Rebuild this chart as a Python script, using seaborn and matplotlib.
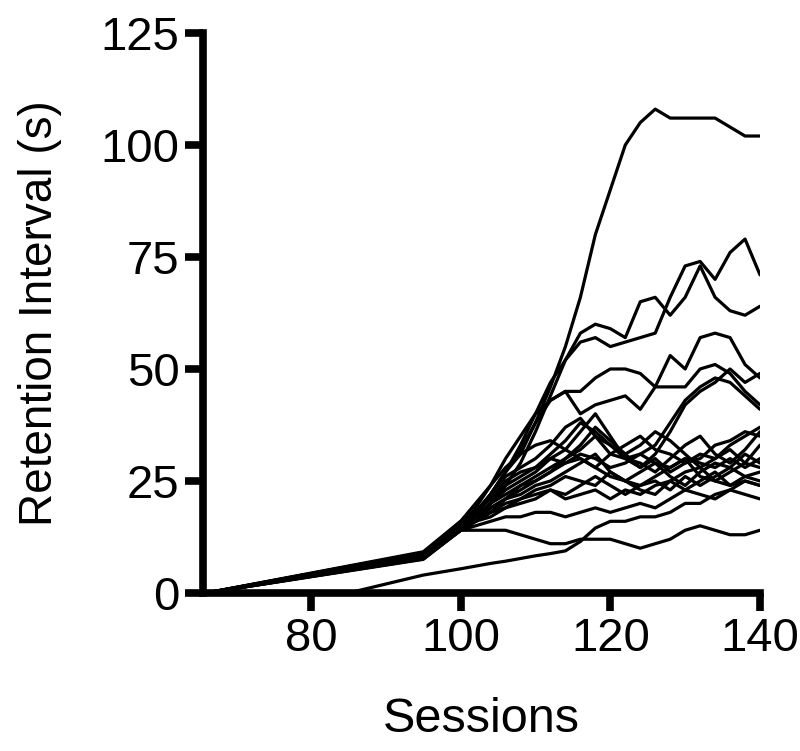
import pandas as pd
import matplotlib.pyplot as plt
import seaborn as sns

sns.set_theme(style="ticks")
plt.rcParams['font.family'] = ['Liberation Sans', 'DejaVu Sans']
plt.rcParams['text.color'] = 'black'
plt.rcParams['axes.labelcolor'] = 'black'

# sessions sampled; 85 only used by the late-starting subject
sessions = [66, 85, 95] + list(range(100, 141, 2))

# early part (session 66, 85, 95) for every subject
early = {
    "A":   [0, None, 9.0],
    "X":   [0, None, 8.5],
    "Y":   [0, None, 8.7],
    "M":   [0, None, 8.4],
    "L1":  [0, None, 8.2],
    "L3":  [0, None, 8.0],
    "L4":  [0, None, 7.8],
    "B1":  [0, None, 8.5],
    "B2":  [0, None, 8.3],
    "B3":  [0, None, 7.9],
    "B4":  [0, None, 9.2],
    "B5":  [0, None, 8.1],
    "B6":  [0, None, 7.7],
    "B7":  [0, None, 8.4],
    "B8":  [0, None, 7.6],
    "B9":  [0, None, 8.0],
    "B10": [0, None, 7.5],
    "B11": [0, None, 9.0],
    "Z1":  [0, None, 8.3],
    "S":   [0, 0, 4.0],
}

# sessions 100, 102, ..., 140
late = {
    "A":   [15, 17, 22, 27, 31, 38, 46, 55, 66, 80, 90, 100, 105, 108, 106, 106, 106, 106, 104, 102, 102],
    "X":   [15, 17, 20, 24, 29, 36, 44, 52, 58, 60, 59, 57, 65, 66, 62, 66, 73, 66, 63, 62, 64],
    "Y":   [15, 18, 22, 27, 33, 40, 47, 52, 56, 57, 55, 56, 57, 58, 66, 73, 74, 70, 76, 79, 71],
    "M":   [15, 19, 24, 30, 35, 40, 43, 45, 40, 42, 43, 44, 41, 46, 46, 46, 50, 51, 49, 45, 42],
    "L1":  [15, 18, 22, 27, 32, 38, 43, 45, 45, 48, 50, 50, 49, 46, 53, 50, 57, 58, 57, 51, 48],
    "L3":  [15, 17, 20, 24, 26, 28, 31, 34, 38, 36, 33, 30, 31, 33, 38, 43, 46, 48, 47, 44, 41],
    "L4":  [14, 16, 18, 21, 24, 26, 28, 30, 32, 35, 31, 30, 28, 31, 36, 42, 45, 47, 50, 47, 49],
    "B1":  [15, 18, 22, 26, 28, 30, 33, 37, 39, 35, 33, 31, 28, 30, 27, 29, 31, 30, 33, 35, 37],
    "B2":  [15, 17, 20, 23, 25, 27, 30, 32, 36, 40, 35, 30, 29, 27, 30, 33, 35, 31, 29, 32, 36],
    "B3":  [14, 17, 19, 21, 23, 25, 27, 30, 33, 37, 34, 31, 33, 36, 34, 31, 28, 30, 32, 29, 33],
    "B4":  [16, 18, 21, 25, 27, 28, 30, 29, 31, 30, 28, 29, 31, 29, 28, 30, 29, 28, 30, 28, 30],
    "B5":  [15, 17, 20, 22, 24, 25, 27, 29, 30, 28, 26, 25, 27, 29, 26, 24, 27, 29, 28, 31, 29],
    "B6":  [14, 16, 19, 21, 22, 24, 25, 27, 29, 31, 27, 25, 24, 26, 28, 30, 26, 25, 27, 29, 28],
    "B7":  [15, 16, 18, 20, 21, 23, 24, 26, 25, 24, 27, 25, 23, 22, 25, 27, 28, 25, 24, 26, 27],
    "B8":  [14, 16, 17, 19, 21, 22, 23, 22, 24, 26, 24, 22, 24, 25, 23, 26, 24, 26, 28, 26, 25],
    "B9":  [15, 16, 18, 19, 20, 21, 23, 21, 22, 23, 21, 23, 22, 24, 25, 23, 25, 27, 24, 25, 24],
    "B10": [14, 15, 16, 17, 17, 18, 18, 17, 18, 19, 18, 19, 20, 19, 21, 23, 22, 21, 23, 25, 24],
    "B11": [16, 20, 24, 28, 31, 33, 34, 32, 30, 28, 31, 33, 35, 32, 31, 29, 30, 33, 34, 36, 35],
    "Z1":  [14, 14, 14, 14, 13, 12, 11, 11, 12, 12, 12, 11, 10, 11, 12, 14, 15, 14, 13, 13, 14],
    "S":   [5.4, 6.0, 6.6, 7.1, 7.7, 8.3, 8.8, 9.4, 11.5, 14.5, 16, 16, 17, 17, 18, 20, 20, 22, 23, 22, 21],
}

rows = []
for subj in late:
    for s, v in zip(sessions, early[subj] + late[subj]):
        rows.append({"subject": subj, "session": s, "interval": v})
df = pd.DataFrame(rows).dropna()

fig = plt.figure(figsize=(8, 7.51), dpi=100)
ax = fig.add_axes([0.254, 0.2104, 0.696, 0.7457])

sns.lineplot(data=df, x="session", y="interval", units="subject",
             estimator=None, color="black", linewidth=2.3, ax=ax,
             sort=False, legend=False)

ax.set_xlim(65.6, 140)
ax.set_ylim(0, 125)
ax.set_xticks([80, 100, 120, 140])
ax.set_yticks([0, 25, 50, 75, 100, 125])

sns.despine(ax=ax)
for side in ["left", "bottom"]:
    ax.spines[side].set_linewidth(5.5)
    ax.spines[side].set_color("black")
ax.tick_params(axis="both", direction="out", length=13, width=5.5,
               labelsize=34, pad=4, colors="black")

ax.set_xlabel("Sessions", fontsize=35, labelpad=26, color="black")
ax.set_ylabel("Retention Interval (s)", fontsize=33, labelpad=28, color="black")

plt.savefig("out.png", dpi=100)
